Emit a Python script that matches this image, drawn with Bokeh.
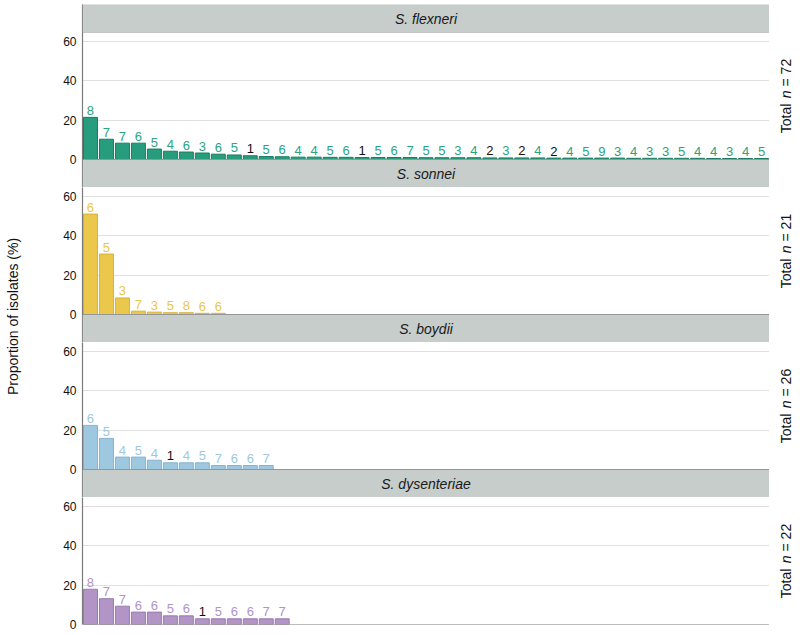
import math
from bokeh.plotting import figure
from bokeh.models import Range1d, FixedTicker, BoxAnnotation, Label, Span, ColumnDataSource
from bokeh.layouts import row, column
from bokeh.embed import file_html
from bokeh.resources import INLINE
from bokeh.core.properties import value

# ---------------- data ----------------
species = ["S. flexneri", "S. sonnei", "S. boydii", "S. dysenteriae"]
totals = [72, 21, 26, 22]

flexneri_pct = [21.4, 10.3, 8.3, 8.3, 5.3, 4.2, 3.8, 3.3, 2.7, 2.3,
                1.9, 1.5, 1.4, 1.2, 1.2, 1.1, 1.1, 1.0, 1.0, 1.0,
                1.0, 0.9, 0.9, 0.9, 0.9, 0.8, 0.8, 0.8, 0.8, 0.7,
                0.7, 0.7, 0.7, 0.7, 0.6, 0.6, 0.6, 0.6, 0.6, 0.5,
                0.5, 0.5, 0.5]
flexneri_lab = [8, 7, 7, 6, 5, 4, 6, 3, 6, 5,
                1, 5, 6, 4, 4, 5, 6, 1, 5, 6,
                7, 5, 5, 3, 4, 2, 3, 2, 4, 2,
                4, 5, 9, 3, 4, 3, 3, 5, 4, 4,
                3, 4, 5]

sonnei_pct = [51.0, 30.7, 8.4, 1.7, 1.2, 0.9, 0.9, 0.6, 0.6]
sonnei_lab = [6, 5, 3, 7, 3, 5, 8, 6, 6]

boydii_pct = [22.4, 15.8, 6.3, 6.3, 4.7, 3.4, 3.4, 3.4, 2.0, 2.0, 2.0, 2.0]
boydii_lab = [6, 5, 4, 5, 4, 1, 4, 5, 7, 6, 6, 7]

dysenteriae_pct = [17.9, 13.1, 9.3, 6.3, 6.3, 4.4, 4.4, 2.9, 2.9, 2.9, 2.9, 2.9, 2.9]
dysenteriae_lab = [8, 7, 7, 6, 6, 5, 6, 1, 5, 6, 6, 7, 7]

y_ticks = [0, 20, 40, 60]

values = [flexneri_pct, sonnei_pct, boydii_pct, dysenteriae_pct]
labels = [flexneri_lab, sonnei_lab, boydii_lab, dysenteriae_lab]

# ---------------- style ----------------
fills = ["#289d7e", "#ebc84c", "#9ec8e0", "#b294c6"]
outlines = ["#1c7a61", "#d6b23a", "#86b2cf", "#9a7bb0"]
text_cols = ["#2aa383", "#e9c64a", "#9ec8e0", "#b294c6"]
STRIP_FILL = "#c6cdcb"
STRIP_LINE = "#7a7a7a"
AXIS_COL = "#7a7a7a"
FONT = "Liberation Sans"

YMAX = 64.5
PLOT_H = 127
STRIP_H = 28
TOP_PAD = 4
BOTTOM_PAD = 8
strip_u = STRIP_H / PLOT_H * YMAX
n_slots = max(len(v) for v in values)
LEFT = 52
FRAME_W = 687
LABEL_W = 30
RIGHT_W = 27

rows = []
heights = []
for k in range(4):
    top_strip = (k == 0)
    bottom_strip = (k < 3)
    b_top = TOP_PAD if k == 0 else 0
    b_bot = BOTTOM_PAD if k == 3 else 0
    h = PLOT_H + (STRIP_H if top_strip else 0) + (STRIP_H if bottom_strip else 0) + b_top + b_bot
    heights.append(h)
    y0 = -strip_u if bottom_strip else 0.0
    y1 = YMAX + (strip_u if top_strip else 0.0)
    p = figure(width=LEFT + FRAME_W, height=h,
               x_range=Range1d(0.5, n_slots + 0.5), y_range=Range1d(y0, y1),
               output_backend="svg", toolbar_location=None, title=None,
               x_axis_type=None, min_border_left=LEFT, min_border_right=0,
               min_border_top=b_top, min_border_bottom=b_bot)
    p.outline_line_color = None
    p.background_fill_color = "white"
    p.border_fill_color = "white"

    ax = p.yaxis[0]
    ax.ticker = FixedTicker(ticks=y_ticks)
    ax.axis_line_color = AXIS_COL
    ax.axis_line_width = 1.2
    ax.major_tick_line_color = None
    ax.minor_tick_line_color = None
    ax.major_tick_out = 0
    ax.major_tick_in = 0
    ax.minor_tick_out = 0
    ax.major_label_standoff = 6
    ax.major_label_text_font = FONT
    ax.major_label_text_font_size = "12px"
    ax.major_label_text_color = "#111111"

    g = p.ygrid[0]
    g.ticker = FixedTicker(ticks=[t for t in y_ticks if t > 0])
    g.grid_line_color = "#e0e0e0"
    g.grid_line_width = 1

    vals = values[k]
    labs = labels[k]
    src = ColumnDataSource(dict(
        x=list(range(1, len(vals) + 1)),
        top=vals,
        label=[str(l) for l in labs],
        color=["#111111" if l <= 2 else text_cols[k] for l in labs],
    ))
    p.vbar(x="x", top="top", bottom=0, width=0.875, source=src,
           fill_color=fills[k], line_color=outlines[k], line_width=1)
    p.text(x="x", y="top", text="label", source=src, text_color="color",
           text_align="center", text_baseline="alphabetic", y_offset=-7,
           text_font=value(FONT), text_font_size="13px")

    p.add_layout(Span(location=0, dimension="width", line_color=AXIS_COL, line_width=1))

    cx = (n_slots + 1) / 2.0
    if top_strip:
        p.add_layout(BoxAnnotation(bottom=YMAX, fill_color=STRIP_FILL, fill_alpha=1.0,
                                   line_color=STRIP_LINE, line_width=1))
        p.add_layout(Label(x=cx, y=YMAX + strip_u / 2, text=species[k],
                           text_align="center", text_baseline="middle",
                           text_font=FONT, text_font_style="italic",
                           text_font_size="14px", text_color="#1a1a1a"))
    if bottom_strip:
        p.add_layout(BoxAnnotation(top=0, fill_color=STRIP_FILL, fill_alpha=1.0,
                                   line_color=STRIP_LINE, line_width=1))
        p.add_layout(Label(x=cx, y=-strip_u / 2, text=species[k + 1],
                           text_align="center", text_baseline="middle",
                           text_font=FONT, text_font_style="italic",
                           text_font_size="14px", text_color="#1a1a1a"))

    # right-hand "Total n = xx" (reading upward), n in italics
    r = figure(width=RIGHT_W, height=h, x_range=Range1d(0, RIGHT_W), y_range=Range1d(y0, y1),
               x_axis_type=None, y_axis_type=None, output_backend="svg",
               toolbar_location=None, title=None, min_border_left=0, min_border_right=0,
               min_border_top=b_top, min_border_bottom=b_bot)
    r.outline_line_color = None
    fs = 14
    w_total = 2.223 * fs
    w_sp = 0.278 * fs
    w_n = 0.556 * fs
    rest = "= %d" % totals[k]
    w_rest = (0.584 + 0.278 + 0.556 * len(str(totals[k]))) * fs
    full = w_total + w_sp + w_n + w_sp + w_rest
    start = -full / 2
    pieces = [("Total", start, "normal"),
              ("n", start + w_total + w_sp, "italic"),
              (rest, start + w_total + w_sp + w_n + w_sp, "normal")]
    for txt, off, style in pieces:
        r.add_layout(Label(x=16, y=YMAX / 2, y_offset=off, text=txt,
                           angle=math.pi / 2, text_align="left", text_baseline="middle",
                           text_font=FONT, text_font_style=style,
                           text_font_size="14px", text_color="#111111"))
    rows.append(row(p, r))

total_h = sum(heights)
lf = figure(width=LABEL_W, height=total_h, x_range=Range1d(0, 1), y_range=Range1d(0, 1),
            x_axis_type=None, y_axis_type=None, output_backend="svg",
            toolbar_location=None, title=None, min_border=0)
lf.outline_line_color = None
lf.add_layout(Label(x=12 / LABEL_W, y=0.5, text="Proportion of isolates (%)", angle=math.pi / 2,
                    text_align="center", text_baseline="middle", text_font=FONT,
                    text_font_size="14px", text_color="#111111"))

layout = row(lf, column(*rows))
open("out.html", "w").write(file_html(layout, INLINE))
